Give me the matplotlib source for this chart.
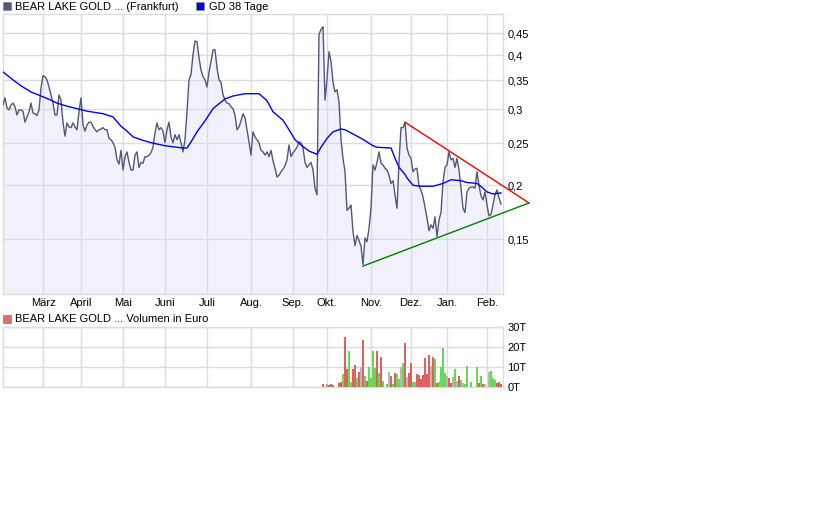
import matplotlib
matplotlib.use('Agg')
import matplotlib.pyplot as plt
import matplotlib.patches as mpatches
from matplotlib.ticker import FixedLocator, FuncFormatter, NullLocator
import numpy as np

# --- styling ---
GRID = '#dcdcdc'
PRICE_COLOR = '#505878'
FILL_COLOR = '#f1f1fc'
MA_COLOR = '#0000ff'
TEXT = '#000000'
VOL_COLORS = {'r': '#e06060', 'g': '#66d955', 'n': '#b8b8b8'}

plt.rcParams.update({
    'font.family': ['Liberation Sans', 'DejaVu Sans'],
    'font.size': 8,
})

# --- data: daily close (trading-day index), EUR ---
price = [
    0.307, 0.319, 0.302, 0.299, 0.307, 0.310, 0.304, 0.291, 0.299, 0.299,
    0.297, 0.280, 0.288, 0.296, 0.310, 0.294, 0.293, 0.290, 0.299, 0.336,
    0.359, 0.357, 0.351, 0.338, 0.324, 0.310, 0.291, 0.291, 0.324, 0.315,
    0.280, 0.260, 0.279, 0.273, 0.272, 0.279, 0.273, 0.269, 0.296, 0.319,
    0.276, 0.267, 0.276, 0.280, 0.280, 0.274, 0.269, 0.266, 0.269, 0.270,
    0.272, 0.269, 0.269, 0.257, 0.255, 0.251, 0.245, 0.229, 0.224, 0.241,
    0.217, 0.233, 0.239, 0.226, 0.217, 0.217, 0.235, 0.239, 0.220, 0.226,
    0.225, 0.233, 0.233, 0.235, 0.238, 0.245, 0.264, 0.279, 0.269, 0.272,
    0.267, 0.251, 0.269, 0.280, 0.259, 0.251, 0.262, 0.255, 0.262, 0.251,
    0.239, 0.255, 0.296, 0.351, 0.361, 0.401, 0.432, 0.430, 0.395, 0.370,
    0.357, 0.351, 0.338, 0.366, 0.387, 0.412, 0.412, 0.374, 0.351, 0.346,
    0.324, 0.315, 0.310, 0.309, 0.304, 0.301, 0.291, 0.269, 0.273, 0.282,
    0.293, 0.287, 0.269, 0.252, 0.235, 0.266, 0.259, 0.255, 0.251, 0.241,
    0.239, 0.235, 0.239, 0.233, 0.241, 0.228, 0.219, 0.209, 0.211, 0.215,
    0.218, 0.222, 0.229, 0.248, 0.233, 0.238, 0.241, 0.245, 0.252, 0.251,
    0.244, 0.226, 0.220, 0.223, 0.226, 0.217, 0.197, 0.190, 0.447, 0.459,
    0.466, 0.315, 0.351, 0.408, 0.387, 0.347, 0.329, 0.333, 0.312, 0.255,
    0.231, 0.215, 0.175, 0.177, 0.180, 0.156, 0.145, 0.153, 0.149, 0.1445,
    0.131, 0.151, 0.148, 0.159, 0.177, 0.223, 0.217, 0.226, 0.239, 0.225,
    0.223, 0.219, 0.217, 0.211, 0.202, 0.205, 0.190, 0.177, 0.226, 0.272,
    0.272, 0.280, 0.244, 0.235, 0.231, 0.215, 0.218, 0.219, 0.199, 0.195,
    0.188, 0.178, 0.168, 0.157, 0.162, 0.159, 0.169, 0.152, 0.166, 0.173,
    0.203, 0.220, 0.223, 0.239, 0.229, 0.231, 0.220, 0.231, 0.217, 0.197,
    0.177, 0.173, 0.193, 0.197, 0.198, 0.198, 0.197, 0.215, 0.200, 0.189,
    0.185, 0.193, 0.180, 0.170, 0.171, 0.180, 0.190, 0.195, 0.187, 0.181,
]
price_days = np.arange(len(price))

# 38-day moving average ("GD 38 Tage")
ma_days = [0, 5, 9, 14, 19, 24, 27, 32, 37, 42, 50, 55, 59, 62, 65, 69, 74,
           81, 90, 92, 94, 97, 101, 105, 108, 111, 115, 121, 128, 132, 135,
           140, 143, 146, 149, 153, 157, 159, 162, 165, 169, 171, 175, 179,
           182, 185, 187, 194, 196, 198, 201, 202, 205, 209, 215, 220, 224,
           229, 232, 237, 240, 242, 245, 249]
ma = [0.366, 0.351, 0.340, 0.329, 0.322, 0.315, 0.310, 0.305, 0.301, 0.297,
      0.293, 0.288, 0.274, 0.267, 0.259, 0.255, 0.251, 0.247, 0.244, 0.244,
      0.252, 0.266, 0.282, 0.301, 0.309, 0.317, 0.322, 0.326, 0.326, 0.314,
      0.296, 0.283, 0.269, 0.255, 0.248, 0.240, 0.236, 0.245, 0.257, 0.266,
      0.270, 0.269, 0.263, 0.257, 0.252, 0.247, 0.245, 0.244, 0.231, 0.220,
      0.212, 0.208, 0.200, 0.199, 0.199, 0.202, 0.206, 0.205, 0.203, 0.202,
      0.197, 0.193, 0.191, 0.192]

# triangle trend lines (drawn past the last day)
resist_days = [201, 263]
resist_vals = [0.280, 0.182]
support_days = [180, 263]
support_vals = [0.130, 0.182]

month_days = [20, 39, 60, 81, 102, 124, 145, 162, 184, 204, 222, 242]
month_labels = ['März', 'April', 'Mai', 'Juni', 'Juli', 'Aug.', 'Sep.',
                'Okt.', 'Nov.', 'Dez.', 'Jan.', 'Feb.']
price_ticks = [0.15, 0.2, 0.25, 0.3, 0.35, 0.4, 0.45]

# volume in Euro; direction r = down, g = up, n = unchanged
vol_days = [160, 162, 163, 164, 165, 168, 169, 170, 171, 172, 173, 174, 175,
            176, 177, 178, 179, 180, 181, 182, 183, 184, 185, 186, 187, 188,
            189, 190, 192, 193, 194, 195, 196, 197, 198, 199, 200, 201, 202,
            203, 204, 205, 206, 207, 208, 209, 210, 211, 212, 213, 214, 215,
            216, 217, 218, 219, 220, 221, 222, 223, 224, 225, 226, 227, 228,
            229, 230, 231, 232, 234, 237, 238, 239, 240, 241, 243, 244, 245,
            246, 247, 248, 249]
vol = [1300, 1200, 800, 1300, 800, 1800, 2300, 6300, 24800, 8800, 17800,
       2500, 8800, 10800, 4500, 7500, 10000, 23300, 5500, 3000, 10000, 4500,
       17800, 9500, 17800, 6800, 14800, 3000, 1500, 7200, 5500, 1300, 6800,
       6300, 3800, 9800, 11800, 21800, 4800, 6800, 11800, 2300, 2300, 6200,
       5800, 3800, 5800, 14300, 6300, 15800, 10200, 14800, 13800, 2000, 2300,
       9800, 19300, 6800, 5500, 4500, 1800, 4800, 8800, 2800, 5300, 3200,
       1800, 1200, 10300, 2200, 9800, 1800, 5300, 1300, 1200, 7300, 7800,
       4300, 3300, 1800, 2300, 1200]
vol_dir = ['r', 'g', 'r', 'r', 'r', 'r', 'r', 'g', 'r', 'r', 'g', 'g', 'r',
           'r', 'g', 'r', 'n', 'r', 'g', 'r', 'g', 'g', 'g', 'g', 'r', 'g',
           'r', 'g', 'g', 'n', 'r', 'g', 'r', 'g', 'g', 'n', 'g', 'r', 'n',
           'r', 'r', 'g', 'g', 'r', 'r', 'r', 'r', 'r', 'r', 'r', 'n', 'r',
           'g', 'r', 'g', 'g', 'g', 'g', 'n', 'r', 'r', 'n', 'g', 'n', 'r',
           'g', 'n', 'g', 'g', 'g', 'g', 'r', 'g', 'r', 'n', 'n', 'g', 'g',
           'g', 'r', 'r', 'r']

# --- figure ---
W, H = 840, 525
fig = plt.figure(figsize=(W / 100, H / 100), dpi=100)
fig.patch.set_facecolor('white')


def fx(px):
    return px / W


def fy(py):
    return 1 - py / H


def style_axes(ax):
    for sp in ax.spines.values():
        sp.set_color(GRID)
        sp.set_linewidth(1.0)
    ax.set_xlim(0, 250)
    ax.xaxis.set_major_locator(FixedLocator(month_days))
    ax.tick_params(axis='both', length=0, labelsize=8, colors=TEXT)
    ax.yaxis.tick_right()
    ax.grid(True, color=GRID, linewidth=1.0)
    ax.set_axisbelow('line')


# price panel
ax = fig.add_axes([fx(3), fy(293.5), fx(500), (293.5 - 13.5) / H])
ax.set_yscale('log')
ax.fill_between(price_days, price, 0.05, color=FILL_COLOR, linewidth=0, zorder=1)
ax.plot(price_days, price, color=PRICE_COLOR, linewidth=1.0, zorder=3)
ax.plot(ma_days, ma, color=MA_COLOR, linewidth=1.0, zorder=4)
ax.plot(resist_days, resist_vals, color='#ff0000', linewidth=1.0, zorder=5, clip_on=False)
ax.plot(support_days, support_vals, color='#008000', linewidth=1.0, zorder=5, clip_on=False)
style_axes(ax)
ax.set_ylim(0.1123, 0.500)
ax.yaxis.set_major_locator(FixedLocator(price_ticks))
ax.yaxis.set_minor_locator(NullLocator())
ax.yaxis.set_major_formatter(FuncFormatter(lambda v, p: f'{v:g}'.replace('.', ',')))
ax.set_xticklabels(month_labels)
ax.tick_params(axis='x', pad=3)
ax.tick_params(axis='y', pad=3)

# volume panel
axv = fig.add_axes([fx(3), fy(386.7), fx(500), 60 / H])
axv.bar(vol_days, vol, width=0.6, color=[VOL_COLORS[d] for d in vol_dir],
        linewidth=0, zorder=3, antialiased=False)
style_axes(axv)
axv.set_ylim(0, 30000)
axv.yaxis.set_major_locator(FixedLocator([0, 10000, 20000, 30000]))
axv.yaxis.set_major_formatter(FuncFormatter(lambda v, p: f'{v / 1000:.0f}T'))
axv.set_xticklabels([])
axv.tick_params(axis='y', pad=3)

# legends
def legend_box(px, py, color):
    fig.patches.append(mpatches.Rectangle((fx(px), fy(py + 8)), fx(8), 8 / H,
                                          facecolor=color, edgecolor='#8a8a8a',
                                          linewidth=0.6, transform=fig.transFigure))


legend_box(3, 2, PRICE_COLOR)
fig.text(fx(15), fy(6.5), 'BEAR LAKE GOLD ... (Frankfurt)', fontsize=8, va='center', ha='left')
legend_box(196, 2, MA_COLOR)
fig.text(fx(209), fy(6.5), 'GD 38 Tage', fontsize=8, va='center', ha='left')
legend_box(3, 315, '#d87070')
fig.text(fx(15), fy(319.5), 'BEAR LAKE GOLD ... Volumen in Euro', fontsize=8, va='center', ha='left')

fig.savefig('out.png', dpi=100, facecolor='white')
